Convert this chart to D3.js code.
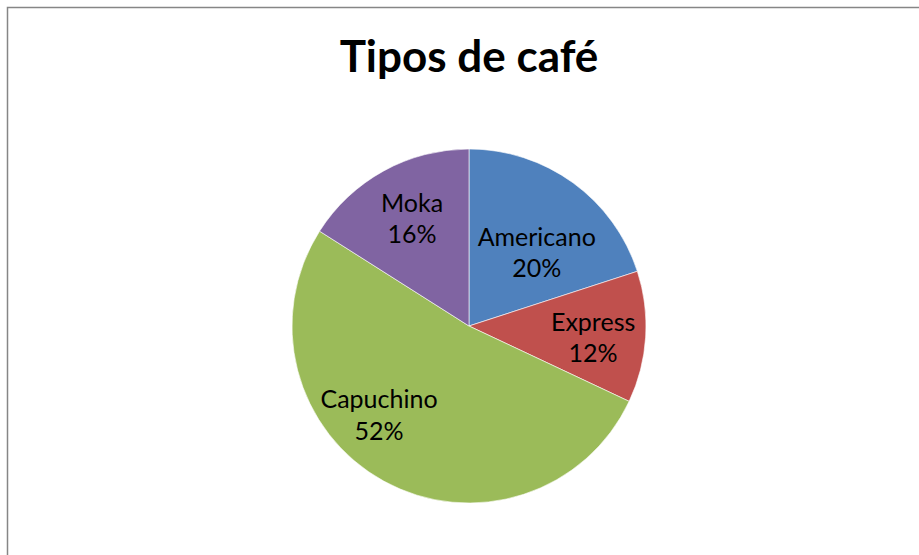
<!DOCTYPE html>
<html>
<head>
<meta charset="utf-8">
<script src="https://cdn.jsdelivr.net/npm/d3@7"></script>
<style>
  html, body { margin: 0; padding: 0; background: #fff; }
  svg { display: block; }
</style>
</head>
<body>
<div id="chart"></div>
<script>
/* global d3 */

// data
var categories = ['Americano', 'Express', 'Capuchino', 'Moka'];
var shares = [20, 12, 52, 16];
var colors = ['#4f81bd', '#c0504d', '#9bbb59', '#8064a2'];
var title = 'Tipos de café';

var w = 919,
h = 555,
cx = 469,
cy = 326,
r = 177;

// small shifts Excel applies to its "best fit" labels
var labelNudge = [[-3, 24], [4, 4], [-32, -16], [1, -2]];

var svg = d3.
select('#chart').
append('svg').
attr('width', w).
attr('height', h);

svg.append('rect').
attr('width', w).
attr('height', h).
attr('fill', '#fff');

// chart area frame (runs past the right and bottom edges)
svg.append('rect').
attr('x', 7.5).
attr('y', 7.5).
attr('width', w + 20).
attr('height', h + 20).
attr('fill', 'none').
attr('stroke', '#868686').
attr('stroke-width', 1.5);

svg.append('text').
attr('x', cx).
attr('y', 72).
attr('text-anchor', 'middle').
style('font-family', 'Lato, "Open Sans", sans-serif').
style('font-weight', 'bold').
style('font-size', '44px').
attr('fill', '#000').
text(title);

var rows = categories.map(function (c, i) {
  return { name: c, value: shares[i], color: colors[i], nudge: labelNudge[i] };
});

var pie = d3.pie().
sort(null).
value(d => d.value);

var arc = d3.arc().
innerRadius(0).
outerRadius(r);

var labelArc = d3.arc().
innerRadius(r * 0.68).
outerRadius(r * 0.68);

var total = d3.sum(shares);

var g = svg.append('g').
attr('transform', 'translate(' + cx + ',' + cy + ')');

g.selectAll('path').
data(pie(rows)).
enter().
append('path').
attr('d', arc).
attr('fill', d => d.data.color).
attr('stroke', '#fff').
attr('stroke-width', 0.6);

var labels = g.selectAll('g.label').
data(pie(rows)).
enter().
append('g').
attr('class', 'label').
attr('transform', function (d) {
  var p = labelArc.centroid(d);
  return 'translate(' + (p[0] + d.data.nudge[0]) + ',' + (p[1] + d.data.nudge[1]) + ')';
});

labels.append('text').
attr('y', -7).
attr('text-anchor', 'middle').
style('font-family', 'Lato, "Open Sans", sans-serif').
style('font-size', '25px').
attr('fill', '#000').
text(d => d.data.name);

labels.append('text').
attr('y', 24.5).
attr('text-anchor', 'middle').
style('font-family', 'Lato, "Open Sans", sans-serif').
style('font-size', '25px').
attr('fill', '#000').
text(d => Math.round(d.data.value / total * 100) + '%');
</script>
</body>
</html>
